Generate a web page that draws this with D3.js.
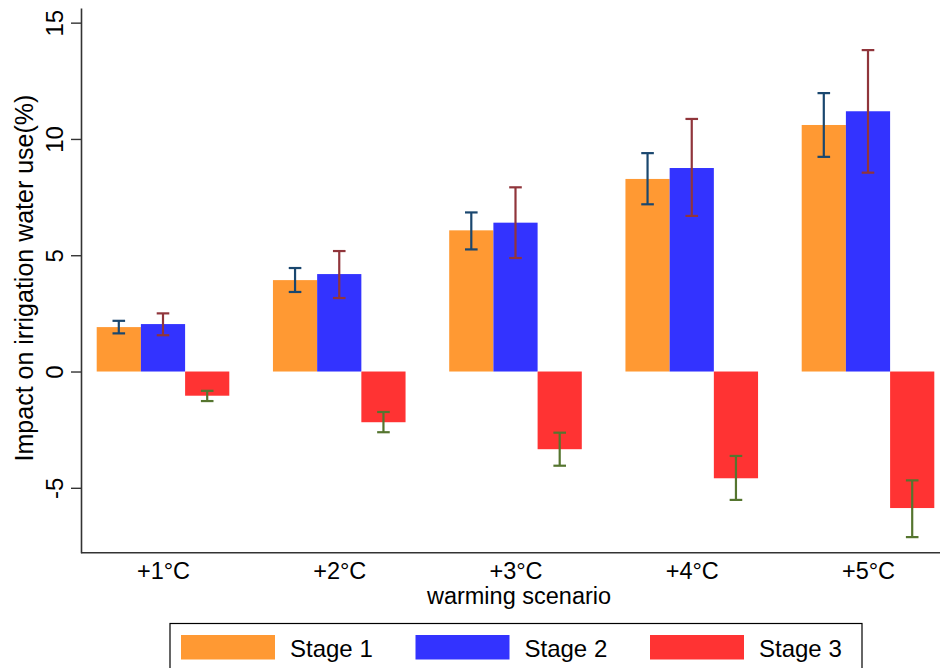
<!DOCTYPE html>
<html>
<head>
<meta charset="utf-8">
<script src="https://cdn.jsdelivr.net/npm/d3@7"></script>
<style>
  body { margin: 0; background: #fff; }
  svg text { font-family: "Liberation Sans", Arial, sans-serif; fill: #000; }
</style>
</head>
<body>
<div id="draw"><svg width="940" height="668"><g></g></svg></div>
<script>
var W = 940, H = 668;

// data
var scenarios = ['+1°C', '+2°C', '+3°C', '+4°C', '+5°C'];
var stages = ['Stage 1', 'Stage 2', 'Stage 3'];
var stage1 = [1.91, 3.93, 6.07, 8.28, 10.60];
var stage2 = [2.04, 4.19, 6.40, 8.75, 11.19];
var stage3 = [-1.04, -2.18, -3.34, -4.59, -5.87];
var stage1Lo = [1.64, 3.42, 5.25, 7.19, 9.23];
var stage1Hi = [2.18, 4.45, 6.84, 9.39, 11.97];
var stage2Lo = [1.56, 3.16, 4.88, 6.69, 8.55];
var stage2Hi = [2.50, 5.18, 7.92, 10.86, 13.82];
var stage3Lo = [-1.27, -2.61, -4.05, -5.52, -7.12];
var stage3Hi = [-0.83, -1.74, -2.63, -3.63, -4.68];
var yTicks = [-5, 0, 5, 10, 15];

var barColors = ['#ff9933', '#3333ff', '#ff3333'];
var errColors = ['#1a476f', '#90353b', '#55752f'];

var series = [
  {name: stages[0], vals: stage1, lo: stage1Lo, hi: stage1Hi},
  {name: stages[1], vals: stage2, lo: stage2Lo, hi: stage2Hi},
  {name: stages[2], vals: stage3, lo: stage3Lo, hi: stage3Hi}
];

var svg = d3.select('#draw svg g');

var axisX = 81, axisBottom = 552.7, axisTop = 8;

var y = d3.scaleLinear().domain([-7.79, 15.63]).range([axisBottom, axisTop]);
var x = d3.scalePoint().domain(scenarios).range([163, 868]);
var inner = d3.scaleBand().domain(stages).range([-66.3, 66.3]).padding(0);

// bars
series.forEach(function(s, si) {
  svg.selectAll('.bar' + si)
    .data(s.vals)
    .enter().append('rect')
    .attr('x', function(d, i) { return x(scenarios[i]) + inner(s.name); })
    .attr('y', function(d) { return y(Math.max(0, d)); })
    .attr('width', inner.bandwidth())
    .attr('height', function(d) { return Math.abs(y(d) - y(0)); })
    .attr('fill', barColors[si]);
});

// error bars
var cap = 6.3;
series.forEach(function(s, si) {
  var g = svg.append('g').attr('stroke', errColors[si]).attr('stroke-width', 2.2);
  s.vals.forEach(function(d, i) {
    var cx = x(scenarios[i]) + inner(s.name) + inner.bandwidth() / 2;
    g.append('line').attr('x1', cx).attr('x2', cx).attr('y1', y(s.lo[i])).attr('y2', y(s.hi[i]));
    g.append('line').attr('x1', cx - cap).attr('x2', cx + cap).attr('y1', y(s.lo[i])).attr('y2', y(s.lo[i]));
    g.append('line').attr('x1', cx - cap).attr('x2', cx + cap).attr('y1', y(s.hi[i])).attr('y2', y(s.hi[i]));
  });
});

// y axis
var yAxis = d3.axisLeft(y).tickValues(yTicks).tickSize(10).tickSizeOuter(0)
  .tickFormat(function(d) { return String(d); });
var yg = svg.append('g').attr('transform', 'translate(' + axisX + ',0)').call(yAxis);
yg.select('.domain').attr('stroke', '#333').attr('stroke-width', 1.6);
yg.selectAll('.tick line').attr('stroke', '#333').attr('stroke-width', 1.4);
yg.selectAll('.tick text')
  .attr('x', 0).attr('y', 0).attr('dy', 0)
  .attr('transform', 'translate(-18,0) rotate(-90)')
  .attr('text-anchor', 'middle')
  .style('font-size', '24px');

// x axis line (no ticks)
var xAxis = d3.axisBottom(x).tickSize(0).tickSizeOuter(0);
var xg = svg.append('g').attr('transform', 'translate(0,' + axisBottom + ')').call(xAxis);
xg.select('.domain').remove();
xg.append('line').attr('x1', axisX).attr('x2', W).attr('y1', 0).attr('y2', 0)
  .attr('stroke', '#333').attr('stroke-width', 1.6);
xg.selectAll('.tick text').attr('y', 26).attr('dy', 0).style('font-size', '23.5px');

// axis titles
svg.append('text')
  .attr('x', 519).attr('y', 604)
  .attr('text-anchor', 'middle')
  .style('font-size', '23.5px')
  .text('warming scenario');

svg.append('text')
  .attr('transform', 'translate(33,278) rotate(-90)')
  .attr('text-anchor', 'middle')
  .style('font-size', '25px')
  .text('Impact on irrigation water use(%)');

// legend
var lg = svg.append('g');
lg.append('rect')
  .attr('x', 170).attr('y', 623.5).attr('width', 692).attr('height', 60)
  .attr('fill', '#fff').attr('stroke', '#000').attr('stroke-width', 1.2);
stages.forEach(function(s, i) {
  var lx = 181 + i * 234.5;
  lg.append('rect').attr('x', lx).attr('y', 635).attr('width', 94).attr('height', 24.5)
    .attr('fill', barColors[i]);
  lg.append('text').attr('x', lx + 109).attr('y', 656.5)
    .style('font-size', '24px').text(s);
});
</script>
</body>
</html>
